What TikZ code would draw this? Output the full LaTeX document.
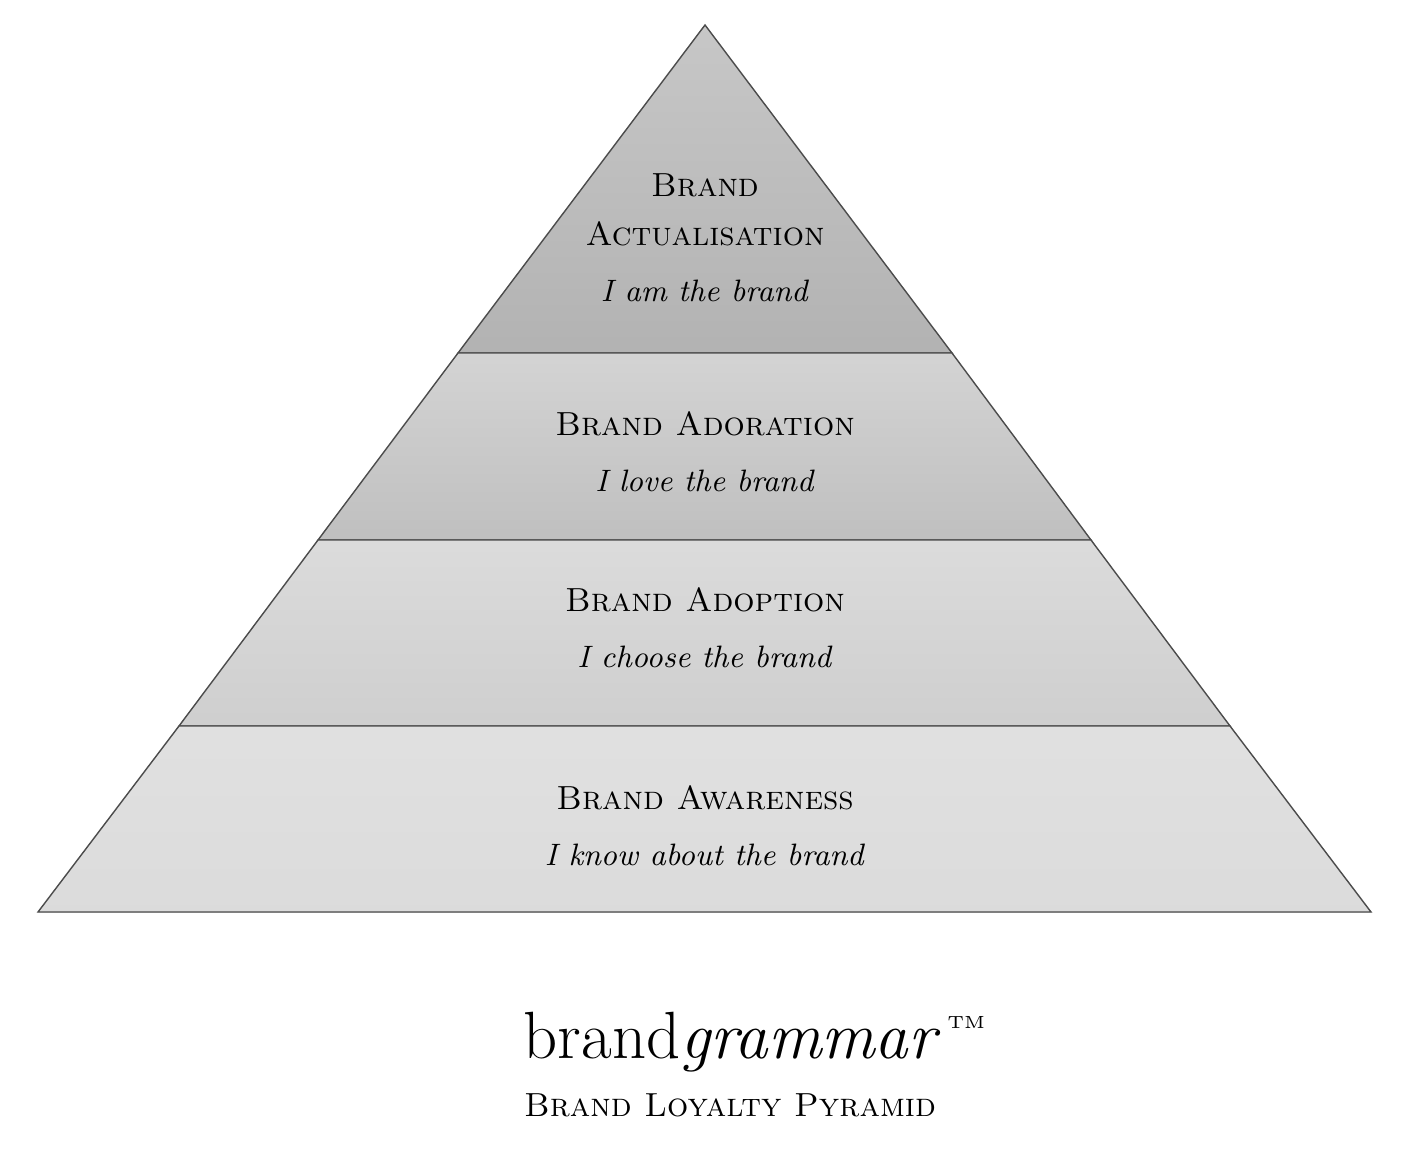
\documentclass[tikz,border=0pt]{standalone}
\usepackage{tikz}
\usetikzlibrary{calc}
\tikzstyle{tierlabel} = [anchor=center, align=center, color=black, font={\fontsize{9.5}{12}\selectfont}]
\tikzstyle{tier} = [draw=black!70, line width=0.4pt, shade, shading angle=0]

\begin{document}
\begin{tikzpicture}[x=0.01cm, y=-0.01cm]
  \useasboundingbox (0,0) rectangle (1403,1148);

  % tiers, top to bottom
  \filldraw[tier, top color=black!22, bottom color=black!30] (705,25) -- (952,353) -- (458,353) -- cycle;
  \filldraw[tier, top color=black!17, bottom color=black!25] (458,353) -- (952,353) -- (1091,540) -- (318,540) -- cycle;
  \filldraw[tier, top color=black!14, bottom color=black!19] (318,540) -- (1091,540) -- (1230,726) -- (179,726) -- cycle;
  \filldraw[tier, top color=black!12, bottom color=black!14] (179,726) -- (1230,726) -- (1371,912) -- (38,912) -- cycle;

  \node[tierlabel] (actual) at (705,238) {\textsc{Brand}\\[2pt]\textsc{Actualisation}\\[4pt]{\fontsize{8.8}{11}\selectfont\textit{I am the brand}}};
  \node[tierlabel] (ador) at (705,452) {\textsc{Brand Adoration}\\[4pt]{\fontsize{8.8}{11}\selectfont\textit{I love the brand}}};
  \node[tierlabel] (adopt) at (705,628) {\textsc{Brand Adoption}\\[4pt]{\fontsize{8.8}{11}\selectfont\textit{I choose the brand}}};
  \node[tierlabel] (aware) at (705,826) {\textsc{Brand Awareness}\\[4pt]{\fontsize{8.8}{11}\selectfont\textit{I know about the brand}}};

  % logo
  \node[anchor=base, font={\fontsize{19}{23}\selectfont}, inner sep=0pt] (logo) at (732,1058) {brand\textit{grammar}};
  \node[anchor=base west, font={\fontsize{5}{6}\selectfont}, inner sep=1pt] (tm) at ($(logo.base east)+(2,-30)$) {TM};
  \node[anchor=base, font={\fontsize{9.5}{12}\selectfont}] (title) at (730,1116) {\textsc{Brand Loyalty Pyramid}};
\end{tikzpicture}
\end{document}
